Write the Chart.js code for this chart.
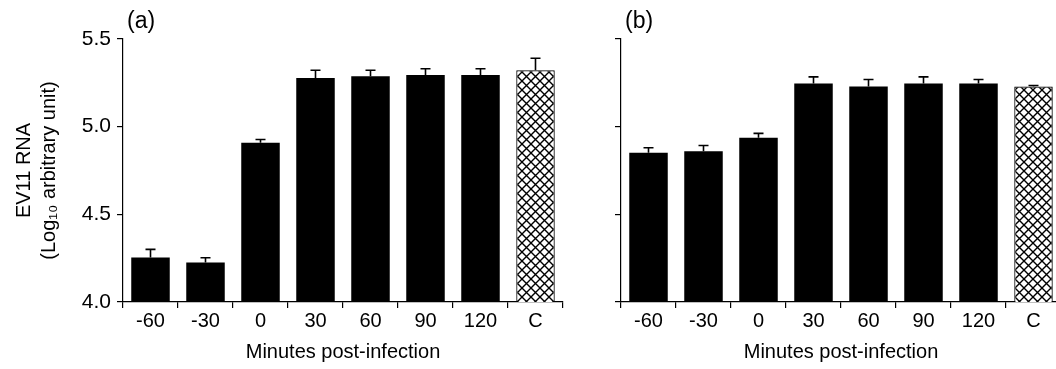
<!DOCTYPE html>
<html>
<head>
<meta charset="utf-8">
<script src="https://cdn.jsdelivr.net/npm/chart.js@4/dist/chart.umd.min.js"></script>
<style>
  html, body { margin: 0; padding: 0; background: #fff; overflow: hidden; }
  #wrap { position: relative; width: 1056px; height: 369px; overflow: hidden; }
  .panel { position: absolute; top: 0; height: 369px; }
  #pa { left: 0; width: 566px; }
  #pb { left: 565px; width: 500px; }
</style>
</head>
<body>
<div id="wrap">
  <div class="panel" id="pa"><canvas id="chart-a"></canvas></div>
  <div class="panel" id="pb"><canvas id="chart-b"></canvas></div>
</div>
<script>
// categories and values
const minutes = ['-60', '-30', '0', '30', '60', '90', '120', 'C'];
const yTicks = [4.0, 4.5, 5.0, 5.5];

const meanA = [4.254, 4.225, 4.908, 5.278, 5.288, 5.295, 5.295, 5.322];
const errA  = [0.046, 0.027, 0.019, 0.044, 0.034, 0.035, 0.035, 0.068];

const meanB = [4.851, 4.860, 4.937, 5.246, 5.229, 5.246, 5.246, 5.229];
const errB  = [0.029, 0.033, 0.025, 0.038, 0.040, 0.038, 0.023, 0.006];

const FONT = 'Liberation Sans, Arial, sans-serif';

// cross-hatch for the control bar
function hatch() {
  const n = 9;
  const c = document.createElement('canvas');
  c.width = n; c.height = n;
  const g = c.getContext('2d');
  g.fillStyle = '#fff';
  g.fillRect(0, 0, n, n);
  g.strokeStyle = '#000';
  g.lineWidth = 1.4;
  g.beginPath();
  g.moveTo(-2, -2); g.lineTo(n + 2, n + 2);
  g.moveTo(n + 2, -2); g.lineTo(-2, n + 2);
  g.stroke();
  return g.createPattern(c, 'repeat');
}

// upper error bars, drawn through the chart's own scales
const errorBars = {
  id: 'errorBars',
  afterDatasetsDraw(chart, args, opts) {
    const { ctx, scales: { y } } = chart;
    const meta = chart.getDatasetMeta(0);
    ctx.save();
    ctx.strokeStyle = '#000';
    ctx.lineWidth = 1.6;
    meta.data.forEach((bar, i) => {
      const top = y.getPixelForValue(opts.means[i]);
      const hi = y.getPixelForValue(opts.means[i] + opts.errs[i]);
      ctx.beginPath();
      ctx.moveTo(bar.x, top);
      ctx.lineTo(bar.x, hi);
      ctx.moveTo(bar.x - 5, hi);
      ctx.lineTo(bar.x + 5, hi);
      ctx.stroke();
    });
    ctx.restore();
  }
};

// panel letter
const panelLabel = {
  id: 'panelLabel',
  afterDraw(chart, args, opts) {
    const { ctx, chartArea } = chart;
    ctx.save();
    ctx.fillStyle = '#000';
    ctx.font = '23px ' + FONT;
    ctx.textBaseline = 'middle';
    ctx.fillText(opts.text, chartArea.left + 4, 22);
    ctx.restore();
  }
};

function makeChart(id, means, errs, letter, showY, yWidth, padRight) {
  const ctx = document.getElementById(id).getContext('2d');
  const pat = hatch();
  return new Chart(ctx, {
    type: 'bar',
    data: {
      labels: minutes,
      datasets: [{
        data: means,
        backgroundColor: minutes.map(m => m === 'C' ? pat : '#000'),
        borderColor: '#000',
        borderWidth: minutes.map(m => m === 'C' ? 1.2 : 0),
        borderSkipped: 'bottom',
        barPercentage: 0.7,
        categoryPercentage: 1
      }]
    },
    options: {
      responsive: true,
      maintainAspectRatio: false,
      animation: false,
      layout: { padding: { top: 39, right: padRight, left: 0, bottom: 0 } },
      plugins: {
        legend: { display: false },
        tooltip: { enabled: false },
        errorBars: { means: means, errs: errs },
        panelLabel: { text: letter }
      },
      scales: {
        x: {
          grid: { display: true, drawOnChartArea: false, offset: true, tickLength: 6, color: '#000', lineWidth: 1.2 },
          border: { display: true, color: '#000', width: 1.2 },
          ticks: { color: '#000', font: { family: FONT, size: 20 }, padding: 1, maxRotation: 0 },
          title: { display: true, text: 'Minutes post-infection', color: '#000', font: { family: FONT, size: 20 }, padding: { top: 2, bottom: 5 } },
          afterFit: s => { s.height = 67; }
        },
        y: {
          min: 4.0,
          max: 5.5,
          afterBuildTicks: s => { s.ticks = yTicks.map(v => ({ value: v })); },
          grid: { display: true, drawOnChartArea: false, tickLength: 6, color: '#000', lineWidth: 1.2 },
          border: { display: true, color: '#000', width: 1.2 },
          ticks: {
            color: '#000',
            font: { family: FONT, size: 21 },
            padding: 6,
            callback: v => showY ? Number(v).toFixed(1) : ''
          },
          title: {
            display: showY,
            text: ['EV11 RNA', '(Log\u2081\u2080 arbitrary unit)'],
            color: '#000',
            font: { family: FONT, size: 20, lineHeight: 1.25 },
            padding: { top: 12, bottom: 4 }
          },
          afterFit: s => { s.width = yWidth; }
        }
      }
    },
    plugins: [errorBars, panelLabel]
  });
}

makeChart('chart-a', meanA, errA, '(a)', true, 123, 3);
makeChart('chart-b', meanB, errB, '(b)', false, 56, 4);
</script>
</body>
</html>
